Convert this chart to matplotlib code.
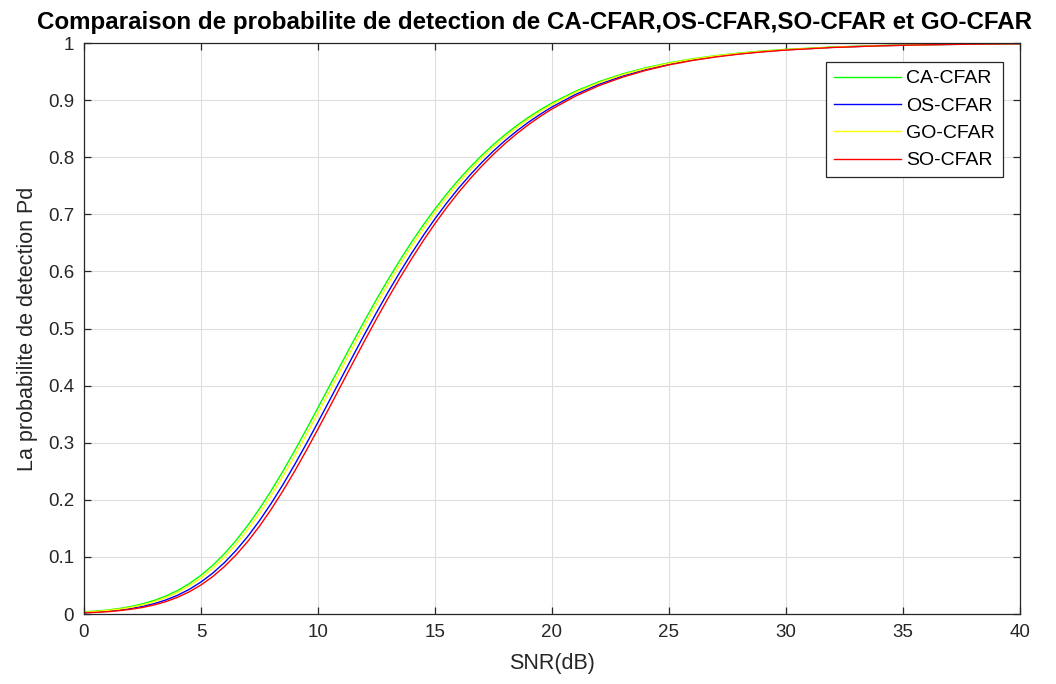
import numpy as np
import matplotlib
matplotlib.use('Agg')
import matplotlib.pyplot as plt
from matplotlib.ticker import FixedLocator, FixedFormatter

plt.rcParams["font.family"] = ["Liberation Sans", "DejaVu Sans"]

# SNR sample points (dB)
snr_db = [0, 0.5, 1, 1.5, 2, 2.5, 3, 3.5, 4, 4.5, 5, 5.5, 6, 6.5, 7, 7.5, 8, 8.5, 9, 9.5,
          10, 10.5, 11, 11.5, 12, 12.5, 13, 13.5, 14, 14.5, 15, 15.5, 16, 16.5, 17, 17.5,
          18, 18.5, 19, 19.5, 20, 21, 22, 23, 24, 25, 26, 27, 28, 29, 30, 32, 34, 36, 38, 40]

# detection probability
pd_ca = [0.0037, 0.0051, 0.0070, 0.0096, 0.0131, 0.0178, 0.0238, 0.0315, 0.0412, 0.0532,
         0.0678, 0.0852, 0.1055, 0.1289, 0.1552, 0.1843, 0.2160, 0.2500, 0.2858, 0.3231,
         0.3613, 0.3999, 0.4386, 0.4769, 0.5144, 0.5509, 0.5860, 0.6195, 0.6513, 0.6813,
         0.7094, 0.7357, 0.7600, 0.7825, 0.8033, 0.8223, 0.8397, 0.8556, 0.8700, 0.8831,
         0.8950, 0.9155, 0.9322, 0.9457, 0.9566, 0.9653, 0.9723, 0.9779, 0.9824, 0.9860,
         0.9889, 0.9930, 0.9956, 0.9972, 0.9982, 0.9989]
pd_os = [0.0025, 0.0035, 0.0049, 0.0069, 0.0096, 0.0133, 0.0182, 0.0246, 0.0328, 0.0432,
         0.0560, 0.0715, 0.0899, 0.1114, 0.1359, 0.1634, 0.1937, 0.2264, 0.2614, 0.2980,
         0.3359, 0.3746, 0.4135, 0.4523, 0.4906, 0.5279, 0.5640, 0.5986, 0.6316, 0.6629,
         0.6922, 0.7197, 0.7453, 0.7689, 0.7908, 0.8109, 0.8293, 0.8461, 0.8614, 0.8753,
         0.8880, 0.9098, 0.9275, 0.9419, 0.9535, 0.9629, 0.9704, 0.9764, 0.9812, 0.9850,
         0.9881, 0.9925, 0.9952, 0.9970, 0.9981, 0.9988]
pd_go = [0.0032, 0.0044, 0.0062, 0.0085, 0.0117, 0.0159, 0.0215, 0.0287, 0.0378, 0.0492,
         0.0631, 0.0798, 0.0994, 0.1220, 0.1477, 0.1762, 0.2074, 0.2409, 0.2764, 0.3135,
         0.3516, 0.3902, 0.4290, 0.4675, 0.5054, 0.5421, 0.5776, 0.6116, 0.6438, 0.6743,
         0.7029, 0.7296, 0.7544, 0.7774, 0.7985, 0.8180, 0.8358, 0.8520, 0.8668, 0.8802,
         0.8924, 0.9134, 0.9304, 0.9443, 0.9554, 0.9644, 0.9716, 0.9774, 0.9820, 0.9856,
         0.9886, 0.9928, 0.9954, 0.9971, 0.9982, 0.9989]
pd_so = [0.0020, 0.0029, 0.0041, 0.0059, 0.0083, 0.0115, 0.0159, 0.0217, 0.0293, 0.0389,
         0.0508, 0.0655, 0.0830, 0.1035, 0.1271, 0.1538, 0.1834, 0.2155, 0.2499, 0.2862,
         0.3239, 0.3625, 0.4015, 0.4405, 0.4791, 0.5168, 0.5533, 0.5885, 0.6220, 0.6538,
         0.6838, 0.7119, 0.7380, 0.7622, 0.7846, 0.8052, 0.8241, 0.8414, 0.8571, 0.8715,
         0.8845, 0.9069, 0.9252, 0.9400, 0.9520, 0.9617, 0.9694, 0.9756, 0.9806, 0.9845,
         0.9877, 0.9922, 0.9951, 0.9969, 0.9980, 0.9988]

series = [
    ('CA-CFAR', pd_ca, (0, 1, 0)),
    ('OS-CFAR', pd_os, (0, 0, 1)),
    ('GO-CFAR', pd_go, (1, 1, 0)),
    ('SO-CFAR', pd_so, (1, 0, 0)),
]

x_ticks = [0, 5, 10, 15, 20, 25, 30, 35, 40]
y_ticks = [0, 0.1, 0.2, 0.3, 0.4, 0.5, 0.6, 0.7, 0.8, 0.9, 1]
y_labels = ['0', '0.1', '0.2', '0.3', '0.4', '0.5', '0.6', '0.7', '0.8', '0.9', '1']

dark = (0.15, 0.15, 0.15)

fig = plt.figure(figsize=(10.56, 6.84), dpi=100)
ax = fig.add_axes([0.0795, 0.1023, 0.8864, 0.8348])

for name, vals, col in series:
    ax.plot(snr_db, vals, color=col, lw=1.0, label=name)

ax.set_xlim(0, 40)
ax.set_ylim(0, 1)
ax.xaxis.set_major_locator(FixedLocator(x_ticks))
ax.yaxis.set_major_locator(FixedLocator(y_ticks))
ax.yaxis.set_major_formatter(FixedFormatter(y_labels))
ax.grid(True, color=(0.87, 0.87, 0.87), lw=0.8)
ax.set_axisbelow(True)
for sp in ax.spines.values():
    sp.set_color(dark)
    sp.set_linewidth(0.9)
ax.tick_params(direction='in', top=True, right=True, length=5, width=0.9,
               colors=dark, labelsize=13.5, pad=7)
for lab in ax.get_xticklabels() + ax.get_yticklabels():
    lab.set_color(dark)

ax.set_xlabel('SNR(dB)', fontsize=15.5, color=dark, labelpad=9)
ax.set_ylabel('La probabilite de detection Pd', fontsize=15.5, color=dark, labelpad=7)
fig.text(0.5066, 1 - 22 / 684, 'Comparaison de probabilite de detection de CA-CFAR,OS-CFAR,SO-CFAR et GO-CFAR',
         fontsize=17.4, fontweight='bold', ha='center', va='center', color='black')

leg = ax.legend(loc='upper right', bbox_to_anchor=(0.9818, 0.9667), fontsize=14,
                fancybox=False, edgecolor=dark, framealpha=1,
                handlelength=3.45, borderpad=0.4, labelspacing=0.5, handletextpad=0.3,
                borderaxespad=0)
leg.get_frame().set_linewidth(0.9)

fig.savefig('out.png', dpi=100)
